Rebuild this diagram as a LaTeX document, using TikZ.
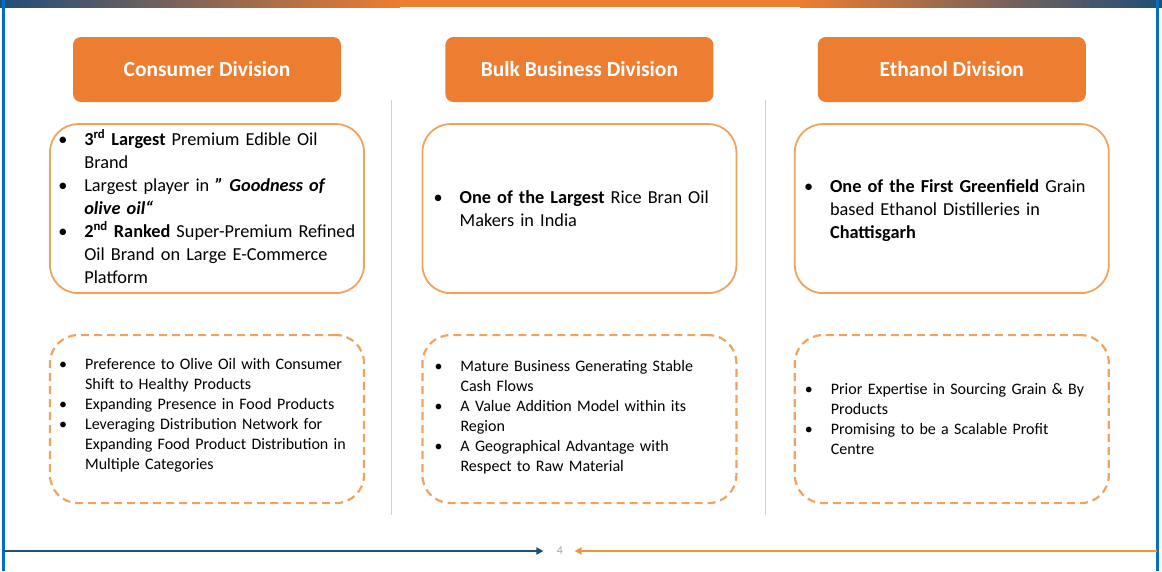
\documentclass[tikz,border=0pt]{standalone}
\usepackage{fontspec}
\setmainfont{Carlito}
\usetikzlibrary{positioning,arrows.meta}

\definecolor{hdorange}{HTML}{ED7D31}
\definecolor{boxline}{HTML}{F0A35E}
\definecolor{frameblue}{HTML}{0070C0}
\definecolor{darkblue}{HTML}{1F4E79}
\definecolor{sepgray}{HTML}{D0D0D0}
\definecolor{pagegray}{HTML}{A6A6A6}
\definecolor{arroworange}{HTML}{F0963A}

\newcommand{\bul}{\par\noindent\llap{\makebox[26pt][l]{\textbullet}}}

\tikzset{
  division/.style={rectangle, rounded corners=8pt, fill=hdorange, minimum width=268pt, minimum height=65pt, text=white, font=\fontsize{21.5}{26}\selectfont\bfseries},
  factbox/.style={rectangle, rounded corners=28pt, draw=boxline, line width=1.8pt, minimum width=314pt, minimum height=169pt},
  outlookbox/.style={factbox, minimum height=168pt, line width=2.2pt, dash pattern=on 8pt off 5pt},
  factext/.style={anchor=west, inner sep=0pt, text width=322pt, execute at begin node={\raggedright\leftskip=26pt\parskip=0pt}, font=\fontsize{18.3}{23}\selectfont},
  outlooktext/.style={factext, font=\fontsize{16}{20}\selectfont}
}

\begin{document}
\begin{tikzpicture}[x=1pt, y=-1pt]
	\useasboundingbox (0,0) rectangle (1162,571);

	\shade [left color=darkblue, right color=hdorange] (0,0) rectangle (400,7);
	\fill [hdorange] (399,0) rectangle (801,7);
	\shade [left color=hdorange, right color=darkblue] (800,0) rectangle (1162,7);
	\draw [frameblue, line width=3pt] (3,0) -- (3,571);
	\draw [frameblue, line width=3pt] (1157,0) -- (1157,571);

	\node [division] (CD) at (207,69.5) {Consumer Division};
	\node [division, right=104pt of CD] (BD) {Bulk Business Division};
	\node [division, right=104pt of BD] (ED) {Ethanol Division};

	\node [factbox, below=21pt of CD] (CF) {};
	\node [factbox, below=21pt of BD] (BF) {};
	\node [factbox, below=21pt of ED] (EF) {};

	\node [outlookbox, below=40pt of CF] (CO) {};
	\node [outlookbox, below=40pt of BF] (BO) {};
	\node [outlookbox, below=40pt of EF] (EO) {};

	\draw [sepgray, line width=1pt] (391,100) -- (391,515);
	\draw [sepgray, line width=1pt] (765,100) -- (765,515);

	\node [factext] (CFt) at ([xshift=9pt, yshift=6pt]CF.west) {
		\bul\textbf{3\textsuperscript{rd} Largest} Premium Edible Oil\\Brand
		\bul Largest player in \textbf{\textit{" Goodness of}}\\\textbf{\textit{olive oil“}}
		\bul\textbf{2\textsuperscript{nd} Ranked} Super-Premium Refined\\Oil Brand on Large E-Commerce\\Platform};
	\node [factext] (BFt) at ([xshift=12pt, yshift=5pt]BF.west) {
		\bul\textbf{One of the Largest} Rice Bran Oil\\Makers in India};
	\node [factext] (EFt) at ([xshift=10pt, yshift=3pt]EF.west) {
		\bul\textbf{One of the First Greenfield} Grain\\based Ethanol Distilleries in\\\textbf{Chattisgarh}};

	\node [outlooktext] (COt) at ([xshift=10pt, yshift=8pt]CO.west) {
		\bul Preference to Olive Oil with Consumer\\Shift to Healthy Products
		\bul Expanding Presence in Food Products
		\bul Leveraging Distribution Network for\\Expanding Food Product Distribution in\\Multiple Categories};
	\node [outlooktext] (BOt) at ([xshift=13pt, yshift=6pt]BO.west) {
		\bul Mature Business Generating Stable\\Cash Flows
		\bul A Value Addition Model within its\\Region
		\bul A Geographical Advantage with\\Respect to Raw Material};
	\node [outlooktext] (EOt) at ([xshift=11pt, yshift=5pt]EO.west) {
		\bul Prior Expertise in Sourcing Grain \& By\\Products
		\bul Promising to be a Scalable Profit\\Centre};

	\node [text=pagegray, font=\fontsize{12}{14}\selectfont] (pg) at (560,551) {4};
	\coordinate (lb) at (3,551);
	\coordinate (rb) at (1157,551);
	\draw [darkblue, line width=1.8pt, -{Triangle[length=7pt, width=7pt]}, shorten >=10pt] (lb) -- (pg.west);
	\draw [arroworange, line width=1.8pt, -{Triangle[length=7pt, width=7pt]}, shorten >=8pt] (rb) -- (pg.east);

\end{tikzpicture}
\end{document}
